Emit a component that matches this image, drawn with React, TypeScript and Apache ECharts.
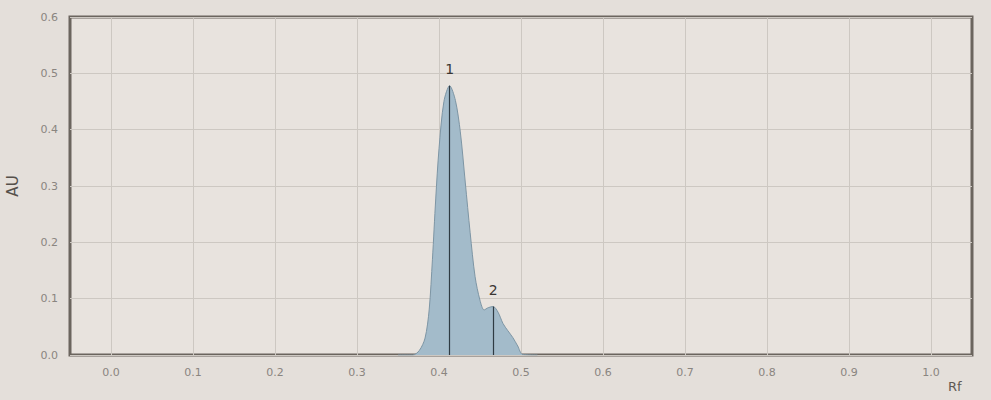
import React, { useEffect, useRef } from "react";
import * as echarts from "echarts";

const rf = [0.35, 0.368, 0.376, 0.383, 0.388, 0.392, 0.396, 0.4, 0.406, 0.413, 0.42, 0.426, 0.432, 0.438, 0.444, 0.45, 0.455, 0.46, 0.466, 0.472, 0.478, 0.484, 0.49, 0.496, 0.502, 0.52];
const au = [0, 0, 0.008, 0.03, 0.08, 0.17, 0.277, 0.366, 0.45, 0.478, 0.452, 0.396, 0.307, 0.217, 0.139, 0.097, 0.08, 0.084, 0.086, 0.076, 0.056, 0.043, 0.031, 0.016, 0.001, 0];
const peakLabels = ["1", "2"];
const peakRf = [0.413, 0.466];
const peakAu = [0.478, 0.086];
const xTicks = [0.0, 0.1, 0.2, 0.3, 0.4, 0.5, 0.6, 0.7, 0.8, 0.9, 1.0];

export default function App() {
  const ref = useRef<HTMLDivElement>(null);
  useEffect(() => {
    if (!ref.current) return;
    const chart = echarts.init(ref.current, null, { renderer: "svg" });
    const font = "DejaVu Sans";
    chart.setOption({
      animation: false,
      backgroundColor: "#e4dfda",
      grid: { left: 70, right: 19, top: 17, bottom: 45, outerBoundsMode: "none", containLabel: false, show: true, borderColor: "#6b655e", borderWidth: 3, backgroundColor: "#e8e3de" },
      graphic: [
        { type: "text", left: 948, top: 380, style: { text: "Rf", fill: "#5f5a54", font: `13px ${font}` } },
      ],
      xAxis: {
        type: "value",
        min: -0.05,
        max: 1.05,
        axisLine: { show: false },
        axisTick: { show: false, customValues: xTicks },
        axisLabel: { customValues: xTicks, color: "#8a8580", fontSize: 11, fontFamily: font, margin: 12, formatter: (v: number) => v.toFixed(1) },
        splitLine: { show: true, lineStyle: { color: "#cdc8c2", width: 1 } },
      },
      yAxis: {
        type: "value",
        min: 0,
        max: 0.6,
        interval: 0.1,
        name: "AU",
        nameLocation: "middle",
        nameGap: 50,
        nameTextStyle: { color: "#55504a", fontSize: 15, fontFamily: font },
        axisLine: { show: false },
        axisTick: { show: false },
        axisLabel: { color: "#8a8580", fontSize: 11, fontFamily: font, margin: 12, formatter: (v: number) => v.toFixed(1) },
        splitLine: { show: true, lineStyle: { color: "#cdc8c2", width: 1 } },
      },
      series: [
        {
          type: "line",
          data: rf.map((x, i) => [x, au[i]]),
          smooth: 0.3,
          showSymbol: false,
          lineStyle: { color: "#7d95a4", width: 1 },
          areaStyle: { color: "#a3bbca", opacity: 1 },
          markLine: {
            symbol: "none",
            silent: true,
            lineStyle: { color: "#2f3b43", width: 1.2, type: "solid" },
            label: { show: true, position: "end", color: "#3a3632", fontSize: 14, fontFamily: font, distance: 10 },
            data: peakLabels.map((lab, i) => [
              { coord: [peakRf[i], 0], name: lab, label: { formatter: lab } },
              { coord: [peakRf[i], peakAu[i]] },
            ]),
          },
        },
      ],
    });
    return () => chart.dispose();
  }, []);
  return <div ref={ref} style={{ width: 991, height: 400, position: "absolute", left: 0, top: 0 }} />;
}
